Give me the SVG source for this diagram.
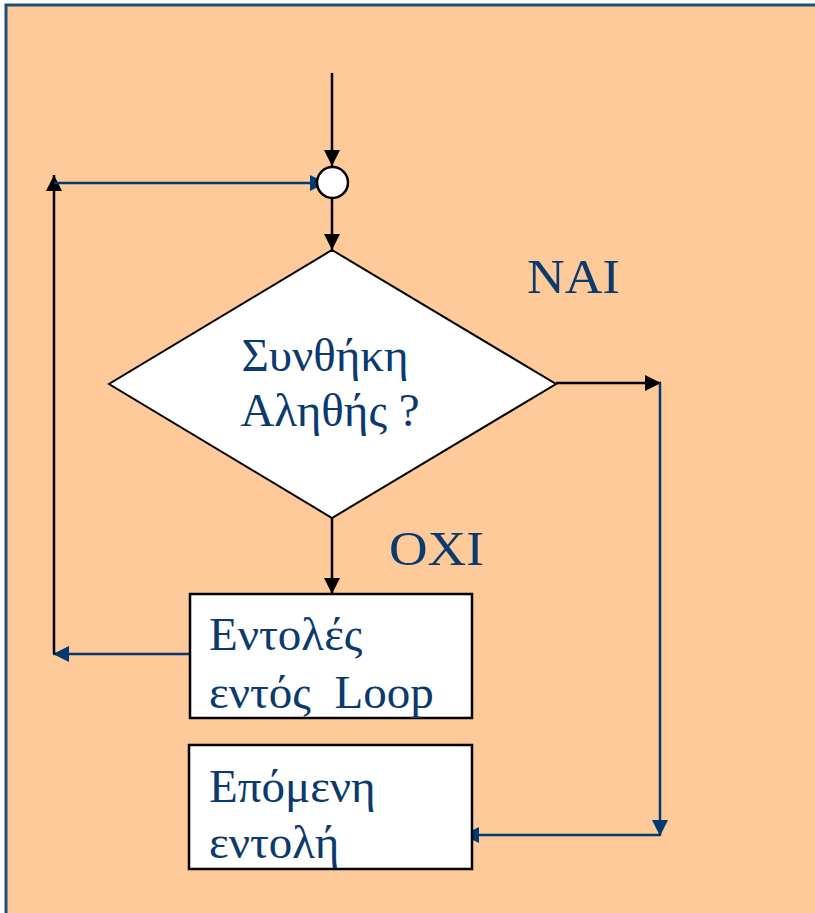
<svg xmlns="http://www.w3.org/2000/svg" width="815" height="913" viewBox="0 0 815 913">
  <style>
    .bg { fill: #FFCA99; stroke: #1f4e79; stroke-width: 3; }
    .shape { fill: #FFFFFF; stroke: #000000; stroke-width: 2.5; }
    .diamond { fill: #FFFFFF; stroke: #000000; stroke-width: 2; }
    .label { font-family: 'Liberation Serif', 'DejaVu Serif', serif; font-size: 47px; fill: #0b3a6e; }
    .big { font-size: 49px; }
    .black { fill: none; stroke: #000000; stroke-width: 2.5; }
    .blue { fill: none; stroke: #003a70; stroke-width: 2.5; }
  </style>
  <defs>
    <marker id="arrow-black" markerUnits="userSpaceOnUse" markerWidth="16" markerHeight="16" viewBox="0 0 16 16" refX="16" refY="8" orient="auto">
      <path d="M0,0 L16,8 L0,16 Z" fill="#000000"/>
    </marker>
    <marker id="arrow-blue" markerUnits="userSpaceOnUse" markerWidth="16" markerHeight="16" viewBox="0 0 16 16" refX="16" refY="8" orient="auto">
      <path d="M0,0 L16,8 L0,16 Z" fill="#003a70"/>
    </marker>
  </defs>

  <!-- slide panel -->
  <rect class="bg" x="6" y="5" width="830" height="930"/>

  <!-- connectors -->
  <g id="connectors">
    <line class="black" x1="332" y1="73" x2="332" y2="166" marker-end="url(#arrow-black)"/>
    <line class="black" x1="332" y1="199" x2="332" y2="250" marker-end="url(#arrow-black)"/>
    <line class="black" x1="332" y1="518" x2="332" y2="594" marker-end="url(#arrow-black)"/>
    <line class="black" x1="556" y1="383" x2="661" y2="383" marker-end="url(#arrow-black)"/>
    <line class="blue" x1="660" y1="383" x2="660" y2="836" marker-end="url(#arrow-blue)"/>
    <line class="blue" x1="660" y1="835" x2="463" y2="835" marker-end="url(#arrow-blue)"/>
    <line class="blue" x1="190" y1="654" x2="53" y2="654" marker-end="url(#arrow-blue)"/>
    <line class="black" x1="54" y1="654" x2="54" y2="175" marker-end="url(#arrow-black)"/>
    <line class="blue" x1="54" y1="183" x2="326" y2="183" marker-end="url(#arrow-blue)"/>
  </g>

  <!-- junction -->
  <g id="junction">
    <circle class="shape" cx="332.5" cy="182.5" r="15.5" stroke-width="2"/>
  </g>

  <!-- decision -->
  <g id="decision">
    <polygon class="diamond" points="332,250 556,384 332,518 109,384"/>
    <text class="label" x="325" y="371" text-anchor="middle">Συνθήκη</text>
    <text class="label" x="330" y="426" text-anchor="middle">Αληθής ?</text>
  </g>

  <g id="label-yes">
    <text class="label big" x="527" y="293" textLength="93" lengthAdjust="spacingAndGlyphs">ΝΑΙ</text>
  </g>
  <g id="label-no">
    <text class="label big" x="389" y="565" textLength="95" lengthAdjust="spacingAndGlyphs">ΟΧΙ</text>
  </g>

  <!-- loop body -->
  <g id="loop-body">
    <rect class="shape" x="190" y="594" width="282" height="124"/>
    <text class="label" x="209" y="650">Εντολές</text>
    <text class="label" x="209" y="708" xml:space="preserve">εντός  Loop</text>
  </g>

  <!-- next statement -->
  <g id="next-statement">
    <rect class="shape" x="189" y="745" width="283" height="124"/>
    <text class="label" x="209" y="802">Επόμενη</text>
    <text class="label" x="209" y="858">εντολή</text>
  </g>
</svg>
